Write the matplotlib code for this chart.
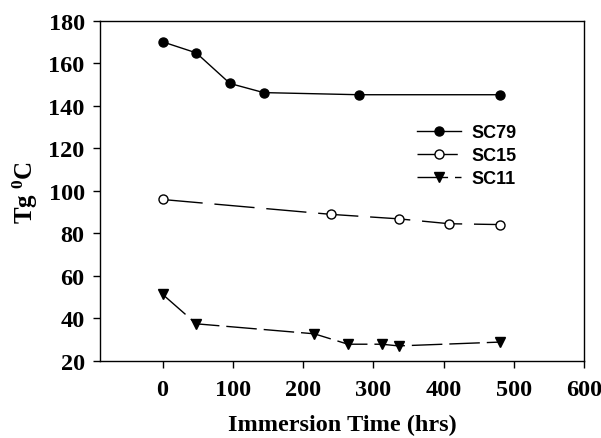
import matplotlib
matplotlib.use("Agg")
import matplotlib.pyplot as plt

# data
sc79_t = [0, 48, 96, 144, 280, 480]
sc79_tg = [170.2, 165.0, 150.6, 146.3, 145.3, 145.3]

sc15_t = [0, 240, 336, 408, 480]
sc15_tg = [96.0, 89.0, 86.9, 84.6, 84.2]

sc11_t = [0, 48, 216, 264, 312, 336, 480]
sc11_tg = [51.4, 37.5, 32.8, 27.9, 27.9, 27.1, 28.9]

x_ticks = [0, 100, 200, 300, 400, 500, 600]
y_ticks = [20, 40, 60, 80, 100, 120, 140, 160, 180]

plt.rcParams["mathtext.fontset"] = "custom"
plt.rcParams["mathtext.rm"] = "Liberation Serif:bold"
plt.rcParams["mathtext.it"] = "Liberation Serif:bold"
plt.rcParams["mathtext.bf"] = "Liberation Serif:bold"

fig = plt.figure(figsize=(6.01, 4.39), dpi=100, facecolor="white")
ax = fig.add_axes([0.1664, 0.1754, 0.8053, 0.7745])

ax.plot(sc79_t, sc79_tg, color="black", lw=1.0, ls="-",
        marker="o", ms=6.5, mfc="black", mec="black", label="SC79")
ax.plot(sc15_t, sc15_tg, color="black", lw=1.0, ls=(0, (29, 8.5)),
        marker="o", ms=6.5, mfc="white", mec="black", mew=1.0, label="SC15")
ax.plot(sc11_t, sc11_tg, color="black", lw=1.0, ls=(0, (22, 5)),
        marker="v", ms=7, mfc="black", mec="black", label="SC11")

ax.set_xlim(-89, 600)
ax.set_ylim(20, 180)
ax.set_xticks(x_ticks)
ax.set_yticks(y_ticks)

tick_font = dict(family="Liberation Serif", weight="bold", size=17.5)
ax.set_xticklabels([str(v) for v in x_ticks], fontdict=tick_font)
ax.set_yticklabels([str(v) for v in y_ticks], fontdict=tick_font)
ax.tick_params(direction="out", length=5, width=1, colors="black", pad=6)
ax.tick_params(axis="x", pad=8)
for sp in ax.spines.values():
    sp.set_linewidth(1.0)

ax.set_xlabel("Immersion Time (hrs)", family="Liberation Serif",
              weight="bold", size=17.5, labelpad=10)
ax.set_ylabel(r"Tg $^{0}$C", family="Liberation Serif",
              weight="bold", size=18, labelpad=6)

leg = ax.legend(loc="upper left", bbox_to_anchor=(0.622, 0.745), frameon=False,
                prop=dict(family="Liberation Sans", weight="bold", size=13),
                handlelength=2.4, handletextpad=0.6, labelspacing=0.33)

fig.savefig("out.png", dpi=100, facecolor="white")
